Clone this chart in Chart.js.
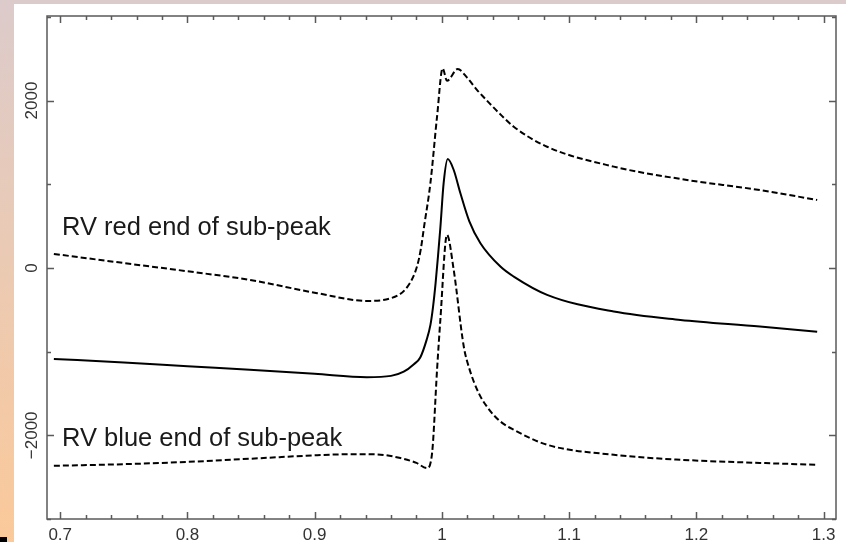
<!DOCTYPE html>
<html>
<head>
<meta charset="utf-8">
<script src="https://cdn.jsdelivr.net/npm/chart.js@4"></script>
<style>
  html, body { margin: 0; padding: 0; background: #fff; }
  #wrap { position: relative; width: 846px; height: 542px; }
</style>
</head>
<body>
<div id="wrap"><canvas id="rvChart" width="846" height="542"></canvas></div>
<script>
// axis ticks
const xTicks = [0.7, 0.8, 0.9, 1.0, 1.1, 1.2, 1.3]
const xTickLabels = ['0.7', '0.8', '0.9', '1', '1.1', '1.2', '1.3']
const xMinorStep = 0.02
const yTicks = [-2000, 0, 2000]
const yTickLabels = ['\u22122000', '0', '2000']
const yMinorTicks = [-3000, -1000, 1000, 3000]

// RV red end of sub-peak (upper dashed)
const redX = [0.695, 0.75, 0.80, 0.849, 0.902, 0.941, 0.960, 0.973, 0.9805, 0.9835, 0.986, 0.991, 0.9962, 1.0006, 1.004, 1.0124, 1.0200, 1.0277, 1.0360, 1.0447, 1.0565, 1.0827, 1.1351, 1.1875, 1.25, 1.295]
const redY = [167, 58, -40, -143, -302, -394, -362, -223, 20, 230, 493, 1015, 1807, 2384, 2236, 2376, 2270, 2125, 1990, 1854, 1687, 1448, 1210, 1063, 930, 812]

// middle solid curve
const midX = [0.695, 0.75, 0.80, 0.849, 0.90, 0.941, 0.960, 0.970, 0.978, 0.983, 0.988, 0.991, 0.993, 0.995, 0.997, 0.9988, 1.0014, 1.0046, 1.0093, 1.0145, 1.0215, 1.0303, 1.046, 1.0565, 1.0827, 1.1351, 1.1875, 1.25, 1.295]
const midY = [-1087, -1130, -1175, -1218, -1265, -1305, -1290, -1240, -1150, -1070, -860, -680, -470, -190, 150, 480, 1015, 1301, 1170, 895, 560, 295, 16, -104, -322, -522, -621, -700, -764]

// RV blue end of sub-peak (lower dashed)
const blueX = [0.695, 0.75, 0.80, 0.849, 0.902, 0.930, 0.949, 0.9674, 0.980, 0.9883, 0.9923, 0.9962, 0.9988, 1.004, 1.0093, 1.0172, 1.0215, 1.029, 1.037, 1.046, 1.0565, 1.0827, 1.1351, 1.1875, 1.25, 1.295]
const blueY = [-2364, -2345, -2318, -2280, -2238, -2225, -2228, -2272, -2330, -2392, -2213, -1218, -621, 394, -24, -939, -1200, -1496, -1690, -1835, -1934, -2113, -2233, -2292, -2330, -2352]

const toPoints = (xs, ys) => xs.map((x, i) => ({ x: x, y: ys[i] }))

const backgroundPlugin = {
    id: 'pageBackground',
    beforeDraw(chart) {
        const ctx = chart.ctx
        const w = chart.width
        const h = chart.height
        ctx.save()
        ctx.fillStyle = '#ffffff'
        ctx.fillRect(0, 0, w, h)
        ctx.fillStyle = '#dccbcb'
        ctx.fillRect(0, 0, w, 4)
        const grad = ctx.createLinearGradient(0, 0, 0, h)
        grad.addColorStop(0, '#dccbcb')
        grad.addColorStop(1, '#fbc99a')
        ctx.fillStyle = grad
        ctx.fillRect(0, 0, 14, h)
        ctx.fillStyle = '#000000'
        ctx.fillRect(0, 537, 7, 5)
        ctx.restore()
    }
}

const framePlugin = {
    id: 'frameAndTicks',
    afterDatasetsDraw(chart) {
        const ctx = chart.ctx
        const area = chart.chartArea
        const xs = chart.scales.x
        const ys = chart.scales.y
        ctx.save()
        ctx.strokeStyle = '#5a5a5a'
        ctx.lineWidth = 1.5
        ctx.strokeRect(area.left, area.top, area.right - area.left, area.bottom - area.top)

        ctx.beginPath()
        // x ticks, bottom and top, pointing inward
        for (let v = 0.7; v <= 1.3001; v += xMinorStep) {
            const px = Math.round(xs.getPixelForValue(v)) + 0.5
            const major = xTicks.some(t => Math.abs(t - v) < 1e-6)
            const len = major ? 7 : 4
            ctx.moveTo(px, area.bottom)
            ctx.lineTo(px, area.bottom - len)
            ctx.moveTo(px, area.top)
            ctx.lineTo(px, area.top + len)
        }
        // y ticks, left and right
        yTicks.concat(yMinorTicks).forEach(v => {
            const py = Math.round(ys.getPixelForValue(v)) + 0.5
            const len = yTicks.includes(v) ? 7 : 4
            ctx.moveTo(area.left, py)
            ctx.lineTo(area.left + len, py)
            ctx.moveTo(area.right, py)
            ctx.lineTo(area.right - len, py)
        })
        ctx.stroke()

        // tick labels
        ctx.fillStyle = '#333333'
        ctx.font = '17px "Liberation Sans", Arial, sans-serif'
        ctx.textAlign = 'center'
        ctx.textBaseline = 'alphabetic'
        xTicks.forEach((v, i) => {
            ctx.fillText(xTickLabels[i], xs.getPixelForValue(v), 540)
        })
        yTicks.forEach((v, i) => {
            ctx.save()
            ctx.translate(37, ys.getPixelForValue(v))
            ctx.rotate(-Math.PI / 2)
            ctx.fillText(yTickLabels[i], 0, 0)
            ctx.restore()
        })

        // curve annotations
        ctx.fillStyle = '#1a1a1a'
        ctx.font = '25.5px "Liberation Sans", Arial, sans-serif'
        ctx.textAlign = 'left'
        ctx.fillText('RV red end of sub-peak', 62, 235)
        ctx.fillText('RV blue end of sub-peak', 62, 446)
        ctx.restore()
    }
}

const lineStyle = {
    borderColor: '#000000',
    borderWidth: 2,
    pointRadius: 0,
    fill: false,
    cubicInterpolationMode: 'monotone'
}

new Chart(document.getElementById('rvChart'), {
    type: 'line',
    data: {
        datasets: [
            Object.assign({ label: 'RV red end of sub-peak', data: toPoints(redX, redY), borderDash: [6, 3] }, lineStyle),
            Object.assign({ label: 'RV', data: toPoints(midX, midY) }, lineStyle),
            Object.assign({ label: 'RV blue end of sub-peak', data: toPoints(blueX, blueY), borderDash: [6, 3] }, lineStyle)
        ]
    },
    options: {
        responsive: false,
        animation: false,
        layout: { padding: { left: 47, top: 16, right: 10, bottom: 23 } },
        plugins: { legend: { display: false }, tooltip: { enabled: false } },
        scales: {
            x: { type: 'linear', min: 0.6896, max: 1.3098, display: false },
            y: { type: 'linear', min: -3000, max: 3010, display: false }
        }
    },
    plugins: [backgroundPlugin, framePlugin]
})
</script>
</body>
</html>
